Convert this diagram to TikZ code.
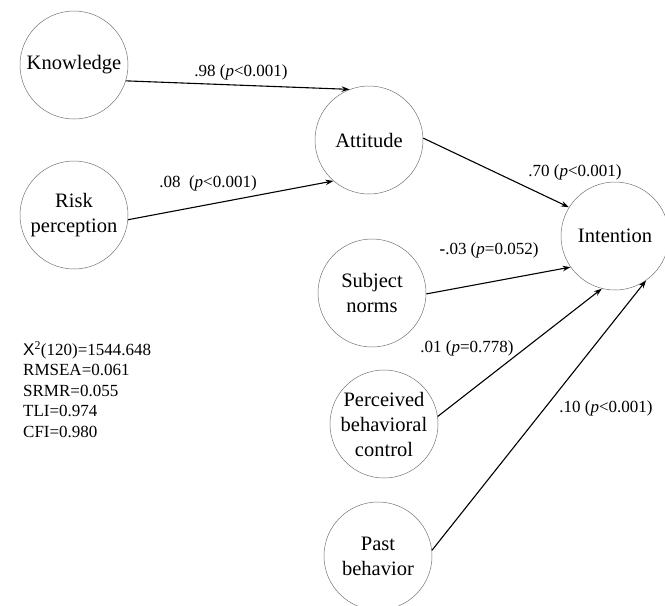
\documentclass[tikz,border=0pt]{standalone}
\usepackage{fontspec}
\setmainfont{Liberation Serif}
\setsansfont{Liberation Sans}
\usetikzlibrary{arrows.meta}

\begin{document}
\begin{tikzpicture}[
  x=1pt, y=-1pt,
  var/.style={draw=black!55, line width=0.5pt, circle, minimum size=108pt, inner sep=0pt,
              align=center, font=\fontsize{20.5}{25}\selectfont},
  lbl/.style={inner sep=0pt, font=\fontsize{17}{20.5}\selectfont},
  path/.style={->, line width=1.1pt},
  >={Stealth[length=8pt,width=5.5pt]}
]
  \useasboundingbox (0,0) rectangle (665,606);

  \node[var] (know) at (74,65)   {Knowledge};
  \node[var] (risk) at (74,215)  {Risk\\perception};
  \node[var] (att)  at (369,140) {Attitude};
  \node[var] (subj) at (372,293) {Subject\\norms};
  \node[var] (pbc)  at (384,424) {Perceived\\behavioral\\control};
  \node[var] (past) at (378,556) {Past\\behavior};
  \node[var] (int)  at (615,236) {Intention};

  \draw[path] (know.-17) -- (att.111);
  \draw[path] (risk.-5)  -- (att.229);
  \draw[path] (att.2)    -- (int.148);
  \draw[path] (subj.-1)  -- (int.215);
  \draw[path] (pbc.8)    -- (int.256);
  \draw[path] (past.6)   -- (int.305);

  \node[lbl] (l98) at (241,72)  {.98 (\textit{p}<0.001)};
  \node[lbl] (l08) at (208,183) {.08\ \ (\textit{p}<0.001)};
  \node[lbl] (l70) at (575,172) {.70 (\textit{p}<0.001)};
  \node[lbl] (l03) at (489,250) {\textbf{-}.03 (\textit{p}=0.052)};
  \node[lbl] (l01) at (467,348) {.01 (\textit{p}=0.778)};
  \node[lbl] (l10) at (606,408) {.10 (\textit{p}<0.001)};

  % model fit
  \node[lbl, anchor=north west, align=left] (fit) at (23,341)
    {\textsf{X}\textsuperscript{2}(120)=1544.648\\RMSEA=0.061\\SRMR=0.055\\TLI=0.974\\CFI=0.980};
\end{tikzpicture}
\end{document}
